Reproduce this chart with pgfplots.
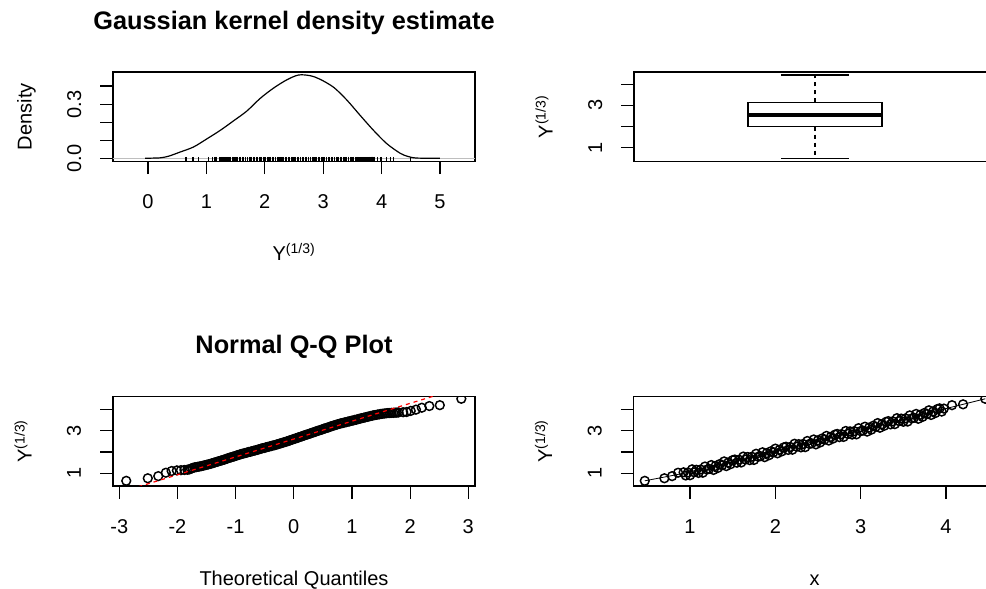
\documentclass[border=0pt]{standalone}
\usepackage{fontspec}
\setmainfont{Liberation Sans}
\usepackage{pgfplots}
\usepackage{pgfplotstable}
\pgfplotsset{compat=1.18}
\definecolor{rgray}{RGB}{190,190,190}

% sorted Y^(1/3) values against theoretical normal quantiles
\pgfplotstableread[row sep=\\]{
q y\\
-2.88 0.65\\ -2.51 0.77\\ -2.33 0.87\\ -2.20 1.03\\ -2.10 1.11\\ -2.01 1.14\\
-1.94 1.15\\ -1.88 1.16\\ -1.83 1.17\\
-1.80 1.18\\ -1.77 1.22\\ -1.74 1.25\\ -1.71 1.28\\ -1.68 1.29\\ -1.65 1.31\\
-1.62 1.32\\ -1.59 1.34\\ -1.56 1.36\\ -1.53 1.38\\ -1.50 1.40\\ -1.47 1.42\\
-1.44 1.44\\ -1.41 1.47\\ -1.38 1.49\\ -1.35 1.52\\ -1.32 1.54\\ -1.29 1.57\\
-1.26 1.59\\ -1.23 1.62\\ -1.20 1.64\\ -1.17 1.67\\ -1.14 1.70\\ -1.11 1.73\\
-1.08 1.75\\ -1.05 1.78\\ -1.02 1.80\\ -0.99 1.83\\ -0.96 1.86\\ -0.93 1.88\\
-0.90 1.91\\ -0.87 1.93\\ -0.84 1.95\\ -0.81 1.97\\ -0.78 2.00\\ -0.75 2.01\\
-0.72 2.04\\ -0.69 2.06\\ -0.66 2.08\\ -0.63 2.10\\ -0.60 2.13\\ -0.57 2.15\\
-0.54 2.18\\ -0.51 2.19\\ -0.48 2.22\\ -0.45 2.24\\ -0.42 2.26\\ -0.39 2.28\\
-0.36 2.31\\ -0.33 2.32\\ -0.30 2.35\\ -0.27 2.37\\ -0.24 2.40\\ -0.21 2.42\\
-0.18 2.45\\ -0.15 2.47\\ -0.12 2.50\\ -0.09 2.52\\ -0.06 2.56\\ -0.03 2.58\\
0.00 2.61\\ 0.03 2.64\\ 0.06 2.66\\ 0.09 2.70\\ 0.12 2.72\\ 0.15 2.75\\
0.18 2.78\\ 0.21 2.81\\ 0.24 2.83\\ 0.27 2.86\\ 0.30 2.89\\ 0.33 2.92\\
0.36 2.94\\ 0.39 2.98\\ 0.42 3.00\\ 0.45 3.03\\ 0.48 3.05\\ 0.51 3.09\\
0.54 3.11\\ 0.57 3.14\\ 0.60 3.16\\ 0.63 3.20\\ 0.66 3.22\\ 0.69 3.25\\
0.72 3.27\\ 0.75 3.30\\ 0.78 3.32\\ 0.81 3.35\\ 0.84 3.36\\ 0.87 3.39\\
0.90 3.40\\ 0.93 3.43\\ 0.96 3.44\\ 0.99 3.47\\ 1.02 3.48\\ 1.05 3.51\\
1.08 3.52\\ 1.11 3.55\\ 1.14 3.57\\ 1.17 3.59\\ 1.20 3.61\\ 1.23 3.63\\
1.26 3.65\\ 1.29 3.67\\ 1.32 3.69\\ 1.35 3.71\\ 1.38 3.73\\ 1.41 3.74\\
1.44 3.76\\ 1.47 3.77\\ 1.50 3.79\\ 1.53 3.80\\ 1.56 3.81\\ 1.59 3.82\\
1.62 3.83\\ 1.65 3.83\\ 1.68 3.84\\ 1.71 3.84\\ 1.74 3.85\\ 1.77 3.85\\
1.80 3.86\\
1.88 3.87\\ 1.94 3.88\\ 2.01 3.93\\ 2.10 3.99\\ 2.20 4.08\\ 2.33 4.16\\
2.51 4.20\\ 2.88 4.50\\
}\qqdata

% predictor x against Y^(1/3)
\pgfplotstableread[row sep=\\]{
x y\\
0.47 0.65\\ 0.70 0.77\\ 0.79 0.87\\ 0.86 1.03\\
0.925 1.05\\ 0.950 0.90\\ 0.975 1.04\\ 1.000 0.91\\ 1.025 1.19\\ 1.050 1.05\\
1.075 1.17\\ 1.100 1.02\\ 1.125 1.18\\ 1.150 1.03\\ 1.175 1.32\\ 1.200 1.18\\
1.225 1.21\\ 1.250 1.39\\ 1.275 1.16\\ 1.300 1.35\\ 1.325 1.25\\ 1.350 1.44\\
1.375 1.38\\ 1.400 1.56\\ 1.425 1.34\\ 1.450 1.51\\ 1.475 1.43\\ 1.500 1.62\\
1.525 1.65\\ 1.550 1.50\\ 1.575 1.64\\ 1.600 1.51\\ 1.625 1.79\\ 1.650 1.65\\
1.675 1.77\\ 1.700 1.62\\ 1.725 1.78\\ 1.750 1.63\\ 1.775 1.92\\ 1.800 1.78\\
1.825 1.81\\ 1.850 1.99\\ 1.875 1.76\\ 1.900 1.95\\ 1.925 1.85\\ 1.950 2.04\\
1.975 1.98\\ 2.000 2.16\\ 2.025 1.94\\ 2.050 2.11\\ 2.075 2.03\\ 2.100 2.22\\
2.125 2.25\\ 2.150 2.10\\ 2.175 2.24\\ 2.200 2.11\\ 2.225 2.39\\ 2.250 2.25\\
2.275 2.37\\ 2.300 2.22\\ 2.325 2.38\\ 2.350 2.23\\ 2.375 2.52\\ 2.400 2.38\\
2.425 2.41\\ 2.450 2.59\\ 2.475 2.36\\ 2.500 2.55\\ 2.525 2.45\\ 2.550 2.64\\
2.575 2.58\\ 2.600 2.76\\ 2.625 2.54\\ 2.650 2.71\\ 2.675 2.63\\ 2.700 2.82\\
2.725 2.85\\ 2.750 2.70\\ 2.775 2.84\\ 2.800 2.71\\ 2.825 2.99\\ 2.850 2.85\\
2.875 2.97\\ 2.900 2.82\\ 2.925 2.98\\ 2.950 2.83\\ 2.975 3.12\\ 3.000 2.98\\
3.025 3.01\\ 3.050 3.19\\ 3.075 2.96\\ 3.100 3.15\\ 3.125 3.05\\ 3.150 3.24\\
3.175 3.18\\ 3.200 3.36\\ 3.225 3.14\\ 3.250 3.31\\ 3.275 3.23\\ 3.300 3.42\\
3.325 3.45\\ 3.350 3.30\\ 3.375 3.44\\ 3.400 3.31\\ 3.425 3.59\\ 3.450 3.45\\
3.475 3.57\\ 3.500 3.42\\ 3.525 3.58\\ 3.550 3.43\\ 3.575 3.72\\ 3.600 3.58\\
3.625 3.61\\ 3.650 3.79\\ 3.675 3.56\\ 3.700 3.75\\ 3.725 3.65\\ 3.750 3.84\\
3.775 3.78\\ 3.800 3.96\\ 3.825 3.74\\ 3.850 3.91\\ 3.875 3.83\\ 3.900 4.02\\
3.925 4.05\\ 3.950 3.90\\ 3.975 4.04\\
4.07 4.20\\ 4.20 4.24\\ 4.46 4.50\\
}\scatterdata

\pgfplotsset{
  rpanel/.style={
    scale only axis, width=271.5pt, height=67.125pt,
    axis line style={line width=0.9pt},
    every tick/.style={black, line width=0.9pt},
    tick align=outside, tick pos=left, major tick length=9.5pt,
    /pgf/number format/assume math mode=true,
    tick label style={font=\fontsize{15}{18}\selectfont, inner sep=0pt},
    xticklabel style={anchor=base},
    xticklabel shift=26pt,
    yticklabel style={rotate=90, anchor=base},
    yticklabel shift=14.5pt,
    every axis x label/.style={at={(axis description cs:0.5,-1.11)}, anchor=base,
      font=\fontsize{15}{18}\selectfont, inner sep=0pt},
    every axis y label/.style={at={(axis description cs:-0.2247,0.5)}, rotate=90, anchor=base,
      font=\fontsize{15}{18}\selectfont, inner sep=0pt},
    every axis title/.style={at={(axis description cs:0.5,1.4767)}, anchor=base,
      font=\bfseries\fontsize{19}{22}\selectfont, inner sep=0pt},
    clip marker paths=true,
  },
  rpoints/.style={only marks, mark=o, mark size=3.3pt,
    mark options={black, line width=1.1pt}},
}

\begin{document}
\begin{tikzpicture}
\path[use as bounding box] (0,0) rectangle (739.5pt,441.75pt);

% kernel density estimate with rug
\begin{axis}[rpanel, at={(84.75pt,320.625pt)}, anchor=south west,
  xmin=-0.6, xmax=5.6, ymin=-0.015, ymax=0.4775,
  xtick={0,1,2,3,4,5}, ytick={0,0.1,0.2,0.3,0.4},
  yticklabels={0.0,,,0.3,},
  title={Gaussian kernel density estimate},
  xlabel={Y\textsuperscript{(1/3)}}, ylabel={Density}]
\addplot[rgray, line width=0.9pt] coordinates {(-0.7,0) (5.7,0)};
\addplot[black, line width=0.9pt, smooth, tension=0.5] coordinates {
  (-0.05,0.003) (0.2,0.005) (0.35,0.014) (0.55,0.037) (0.78,0.065)
  (1.01,0.11) (1.24,0.157) (1.47,0.21) (1.69,0.262) (1.92,0.332)
  (2.15,0.389) (2.38,0.435) (2.58,0.461) (2.78,0.457) (2.95,0.437)
  (3.18,0.393) (3.40,0.325) (3.63,0.240) (3.86,0.157) (4.09,0.083)
  (4.32,0.030) (4.45,0.013) (4.6,0.004) (5.0,0.003)};
\addplot[only marks, mark=|, mark size=2pt, mark options={black, line width=0.8pt}]
  table[x=y, y expr=-0.004] {\qqdata};
\end{axis}

% boxplot
\begin{axis}[rpanel, at={(475.5pt,320.625pt)}, anchor=south west,
  xmin=0, xmax=362, ymin=0.347, ymax=4.58,
  xtick=\empty, ytick={1,2,3,4}, yticklabels={1,,3,},
  ylabel={Y\textsuperscript{(1/3)}}]
\addplot[black, line width=1pt] coordinates {(114,2.0) (248,2.0) (248,3.14) (114,3.14) (114,2.0)};
\addplot[black, line width=3pt] coordinates {(114,2.55) (248,2.55)};
\addplot[black, line width=0.9pt, dash pattern=on 3pt off 3pt] coordinates {(181,3.14) (181,4.44)};
\addplot[black, line width=0.9pt, dash pattern=on 3pt off 3pt] coordinates {(181,2.0) (181,0.50)};
\addplot[black, line width=0.9pt] coordinates {(147,4.44) (215,4.44)};
\addplot[black, line width=0.9pt] coordinates {(147,0.50) (215,0.50)};
\end{axis}

% normal Q-Q plot
\begin{axis}[rpanel, at={(84.75pt,77.25pt)}, anchor=south west,
  xmin=-3.108, xmax=3.115, ymin=0.407, ymax=4.607,
  xtick={-3,-2,-1,0,1,2,3}, ytick={1,2,3,4}, yticklabels={1,,3,},
  title={Normal Q-Q Plot},
  xlabel={Theoretical Quantiles}, ylabel={Y\textsuperscript{(1/3)}}]
\addplot[rpoints] table[x=q, y=y] {\qqdata};
\addplot[red, line width=0.9pt, dash pattern=on 3pt off 3pt] coordinates {(-3.2,-0.072) (3.2,5.292)};
\end{axis}

% Y^(1/3) against x
\begin{axis}[rpanel, at={(475.125pt,77.25pt)}, anchor=south west,
  xmin=0.338, xmax=4.58, ymin=0.407, ymax=4.607,
  xtick={1,2,3,4}, ytick={1,2,3,4}, yticklabels={1,,3,},
  xlabel={x}, ylabel={Y\textsuperscript{(1/3)}}]
\addplot[rpoints] table[x=x, y=y] {\scatterdata};
\addplot[black, line width=0.6pt] coordinates {
  (0.47,0.65) (0.86,0.95) (1.5,1.53) (2.0,2.04) (2.5,2.54)
  (3.0,3.04) (3.5,3.54) (4.0,4.04) (4.2,4.24) (4.46,4.50)};
\end{axis}
\end{tikzpicture}
\end{document}
